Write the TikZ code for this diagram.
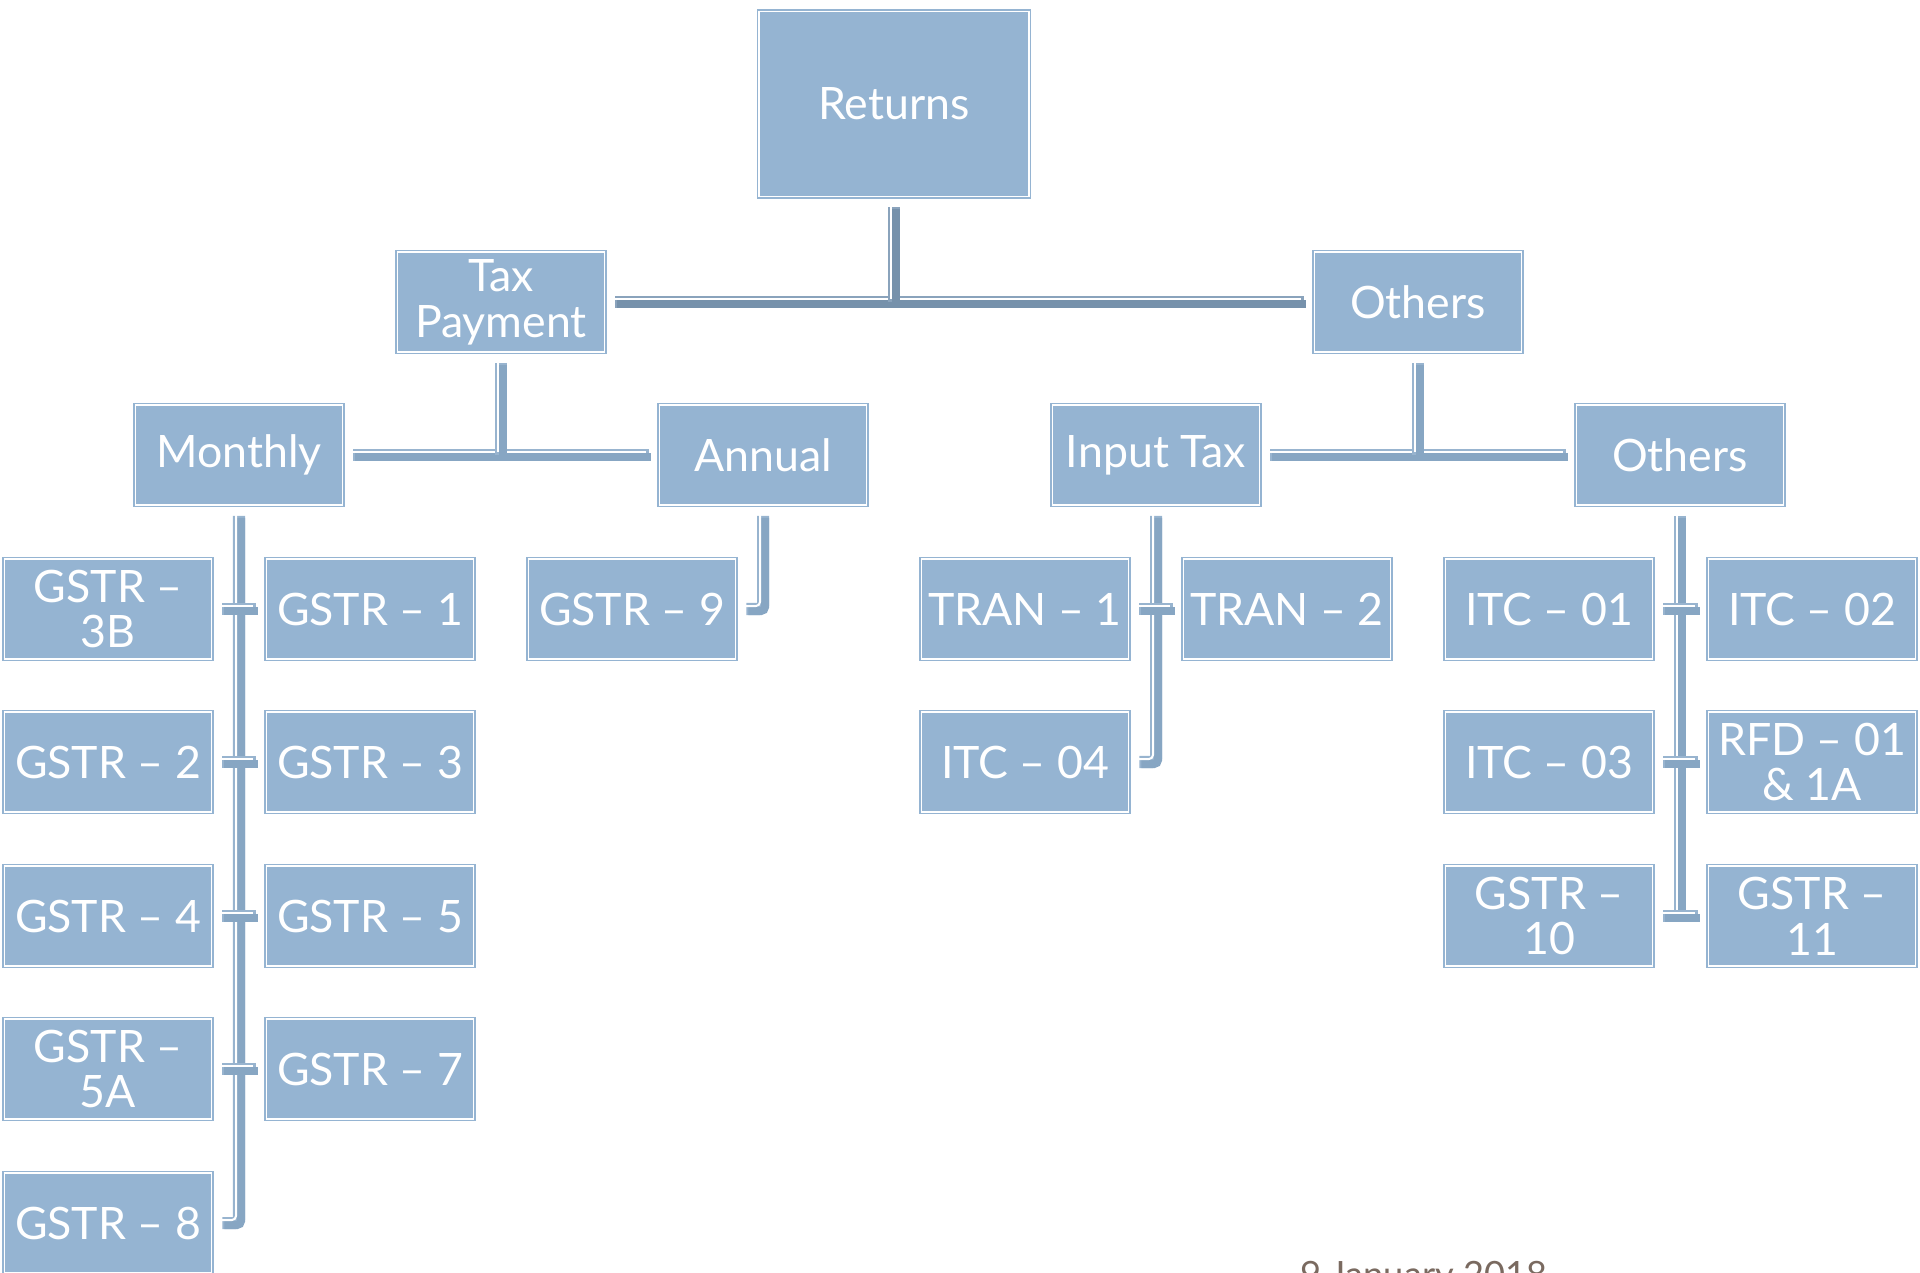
\documentclass[tikz,border=0pt]{standalone}
\usepackage{fontspec}
\setmainfont{Lato}
\usepackage{tikz}

\definecolor{boxblue}{HTML}{95B4D2}
\definecolor{topdark}{HTML}{7691AB}
\definecolor{toplight}{HTML}{8AA3BC}
\definecolor{lnkdark}{HTML}{87A6C3}
\definecolor{lnklight}{HTML}{98B4CF}
\definecolor{datebrown}{HTML}{7A6A60}

\begin{document}
\begin{tikzpicture}[x=0.01cm,y=-0.01cm]

\tikzstyle{box}=[fill=boxblue,draw=boxblue,double=white,double distance=0.15mm,line width=0.15mm,
  text=white,align=center,inner sep=0pt,minimum width=2.07cm,minimum height=1.0cm,
  font=\fontsize{12.7}{13}\selectfont]
\tikzstyle{lnk}=[draw=lnklight,line width=1.2mm,shorten <=1mm,shorten >=1mm,
  postaction={draw=lnkdark,line width=0.8mm,transform canvas={shift={(2,2)}}},
  postaction={draw=white,line width=0.2mm,transform canvas={shift={(-3,-3)}}}]
\tikzstyle{lnktop}=[lnk,draw=toplight,
  postaction={draw=topdark,line width=0.8mm,transform canvas={shift={(2,2)}}},
  postaction={draw=white,line width=0.2mm,transform canvas={shift={(-3,-3)}}}]

\useasboundingbox (0,0) rectangle (1920,1273);
\clip (0,0) rectangle (1920,1273);

\node[box,minimum width=2.70cm,minimum height=1.85cm] (returns) at (894,104) {Returns};

\node[box] (taxpay) at (501,302) {Tax\\Payment};
\node[box] (others) at (1418,302) {Others};

\node[box] (monthly) at (239,455) {Monthly};
\node[box] (annual) at (763,455) {Annual};
\node[box] (inputtax) at (1156,455) {Input Tax};
\node[box] (others2) at (1680,455) {Others};

\node[box] (g3b) at (108,609) {GSTR --\\3B};
\node[box] (g1) at (370,609) {GSTR -- 1};
\node[box] (g2) at (108,762) {GSTR -- 2};
\node[box] (g3) at (370,762) {GSTR -- 3};
\node[box] (g4) at (108,916) {GSTR -- 4};
\node[box] (g5) at (370,916) {GSTR -- 5};
\node[box] (g5a) at (108,1069) {GSTR --\\5A};
\node[box] (g7) at (370,1069) {GSTR -- 7};
\node[box] (g8) at (108,1223) {GSTR -- 8};

\node[box] (g9) at (632,609) {GSTR -- 9};

\node[box] (tran1) at (1025,609) {TRAN -- 1};
\node[box] (tran2) at (1287,609) {TRAN -- 2};
\node[box] (itc4) at (1025,762) {ITC -- 04};

\node[box] (itc1) at (1549,609) {ITC -- 01};
\node[box] (itc2) at (1812,609) {ITC -- 02};
\node[box] (itc3) at (1549,762) {ITC -- 03};
\node[box] (rfd) at (1812,762) {RFD -- 01\\\& 1A};
\node[box] (g10) at (1549,916) {GSTR --\\10};
\node[box] (g11) at (1812,916) {GSTR --\\11};

\node[text=datebrown,inner sep=0pt,anchor=base west,font=\fontsize{10.3}{12}\selectfont] (date) at (1300,1287) {9 January 2018};

\draw[lnktop] (taxpay.east) -- (others.west);
\draw[lnktop,shorten >=0pt] (returns.south) -- (returns.south |- taxpay.east);

\draw[lnk] (monthly.east) -- (annual.west);
\draw[lnk,shorten >=0pt] (taxpay.south) -- (taxpay.south |- monthly.east);
\draw[lnk] (inputtax.east) -- (others2.west);
\draw[lnk,shorten >=0pt] (others.south) -- (others.south |- inputtax.east);

\draw[lnk,rounded corners=0.4mm] (monthly.south) -- (monthly.south |- g8.east) -- (g8.east);
\draw[lnk] (g3b.east) -- (g1.west);
\draw[lnk] (g2.east) -- (g3.west);
\draw[lnk] (g4.east) -- (g5.west);
\draw[lnk] (g5a.east) -- (g7.west);

\draw[lnk,rounded corners=0.4mm] (annual.south) -- (annual.south |- g9.east) -- (g9.east);

\draw[lnk,rounded corners=0.4mm] (inputtax.south) -- (inputtax.south |- itc4.east) -- (itc4.east);
\draw[lnk] (tran1.east) -- (tran2.west);

\draw[lnk,shorten >=0pt] (others2.south) -- (others2.south |- g10.east);
\draw[lnk] (itc1.east) -- (itc2.west);
\draw[lnk] (itc3.east) -- (rfd.west);
\draw[lnk] (g10.east) -- (g11.west);

\end{tikzpicture}
\end{document}
